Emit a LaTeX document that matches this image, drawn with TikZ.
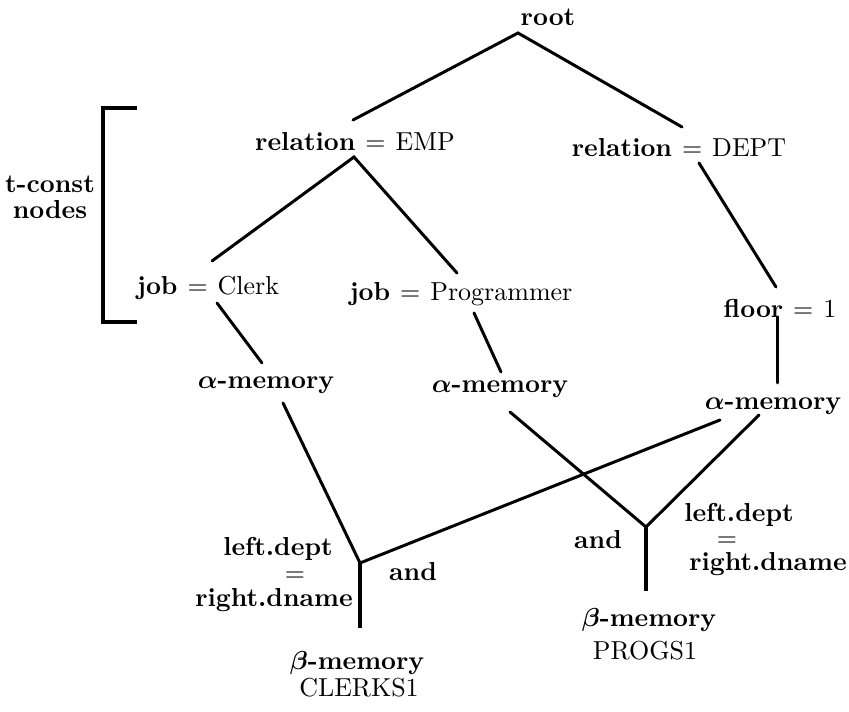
\documentclass[tikz,border=0pt]{standalone}
\usepackage{amsmath}
\usepackage{fontspec}
\begin{document}
\begin{tikzpicture}[x=0.385pt,y=-0.385pt,
  lbl/.style={inner sep=0pt, font=\bfseries},
  eqs/.style={inner sep=0pt, font=\bfseries},
  edge/.style={line width=1.15pt, line cap=round},
  stem/.style={line width=1.5pt},
  brk/.style={line width=1.3pt}]
\useasboundingbox (0,0) rectangle (849,712);
% text nodes
\node[lbl] (root) at (548,17) {root};
\node[lbl] (emp) at (355,142) {relation $=$ \mdseries EMP};
\node[lbl] (dept) at (679,148) {relation $=$ \mdseries DEPT};
\node[lbl] (clerk) at (208,288) {job $=$ \mdseries Clerk};
\node[lbl] (prog) at (461,294) {job $=$ \mdseries Programmer};
\node[lbl] (floor) at (780,308) {floor $=$ \mdseries 1};
\node[lbl] (amL) at (266,385) {$\boldsymbol{\alpha}$-memory};
\node[lbl] (amM) at (500,389) {$\boldsymbol{\alpha}$-memory};
\node[lbl] (amR) at (773,406) {$\boldsymbol{\alpha}$-memory};
\node[lbl] (ldL) at (278,549) {left.dept};
\node[eqs] (eqL) at (295,577) {$=$};
\node[lbl] (rdL) at (274,600) {right.dname};
\node[lbl] (ldR) at (739,515) {left.dept};
\node[eqs] (eqR) at (727,542) {$=$};
\node[lbl] (rdR) at (768,564) {right.dname};
\node[lbl] (andL) at (413,572) {and};
\node[lbl] (andR) at (598,540) {and};
\node[lbl] (bmL) at (357,663) {$\boldsymbol{\beta}$-memory};
\node[lbl,font=\mdseries] (clerks) at (359,688) {CLERKS1};
\node[lbl] (bmR) at (649,620) {$\boldsymbol{\beta}$-memory};
\node[lbl,font=\mdseries] (progs) at (645,651) {PROGS1};
\node[lbl] (tc) at (50,184) {t-const};
\node[lbl] (nd) at (50,210) {nodes};
% connector end points
\coordinate (rootS) at (518,33);
\coordinate (empN) at (353,120);
\coordinate (deptN) at (682,127);
\coordinate (empS) at (354,157);
\coordinate (clerkN) at (212,261);
\coordinate (progN) at (457,273);
\coordinate (deptS) at (699,163);
\coordinate (floorN) at (776,287);
\coordinate (clerkS) at (217,303);
\coordinate (amLN) at (262,363);
\coordinate (progS) at (474,313);
\coordinate (amMN) at (501,372);
\coordinate (floorS) at (777,317);
\coordinate (amRN) at (777,383);
\coordinate (amLS) at (283,403);
\coordinate (amMS) at (510,412);
\coordinate (amRSW) at (720,420);
\coordinate (amRSE) at (759,415);
\coordinate (jL) at (360,563);
\coordinate (jR) at (646,527);
\coordinate (jLend) at (360,628);
\coordinate (jRend) at (646,591);
\coordinate (bT) at (137,108);
\coordinate (bTL) at (103,108);
\coordinate (bBL) at (103,322);
\coordinate (bB) at (137,322);
% connectors
\draw[edge] (empN) -- (rootS) -- (deptN);
\draw[edge] (clerkN) -- (empS) -- (progN);
\draw[edge] (deptS) -- (floorN);
\draw[edge] (clerkS) -- (amLN);
\draw[edge] (progS) -- (amMN);
\draw[edge] (floorS) -- (amRN);
\draw[edge] (amLS) -- (jL) -- (amRSW);
\draw[edge] (amMS) -- (jR) -- (amRSE);
\draw[stem] (jL) -- (jLend);
\draw[stem] (jR) -- (jRend);
\draw[brk] (bT) -- (bTL) -- (bBL) -- (bB);
\end{tikzpicture}
\end{document}
